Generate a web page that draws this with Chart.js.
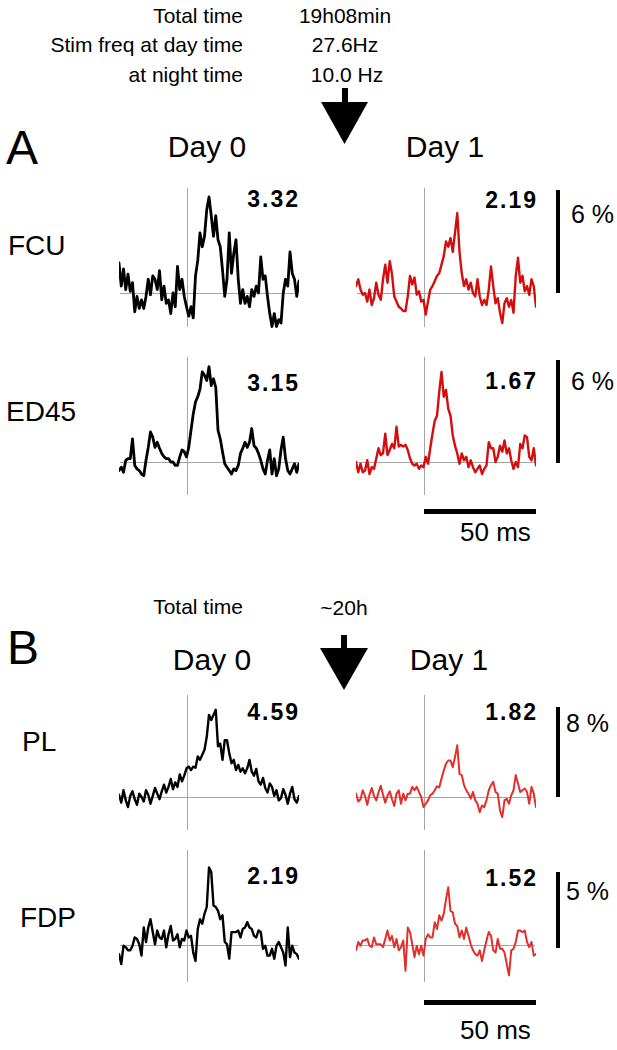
<!DOCTYPE html>
<html><head><meta charset="utf-8">
<script src="https://cdn.jsdelivr.net/npm/chart.js@4.4.1/dist/chart.umd.min.js"></script>
<style>
body{margin:0;background:#fff;width:617px;height:1050px;position:relative;overflow:hidden;font-family:"Liberation Sans",Arial,sans-serif;color:#000}
.t{position:absolute;white-space:nowrap;line-height:1}
.c{transform:translateX(-50%)}
.num{font-weight:bold;font-size:23px;letter-spacing:2px}
canvas{position:absolute}
.bar{position:absolute;background:#000}
svg{position:absolute;left:0;top:0}
</style></head><body>

<div class="t" style="right:374px;top:5px;font-size:21px">Total time</div>
<div class="t" style="right:374px;top:34px;font-size:21px">Stim freq at day time</div>
<div class="t" style="right:374px;top:64px;font-size:21px">at night time</div>
<div class="t c" style="left:345px;top:5px;font-size:21px">19h08min</div>
<div class="t c" style="left:345px;top:34px;font-size:21px">27.6Hz</div>
<div class="t c" style="left:347px;top:64px;font-size:21px">10.0 Hz</div>

<div class="t" style="left:6px;top:124px;font-size:48px">A</div>
<div class="t c" style="left:207px;top:132px;font-size:30px">Day 0</div>
<div class="t c" style="left:445px;top:132px;font-size:30px">Day 1</div>
<div class="t" style="left:8px;top:232px;font-size:28px">FCU</div>
<div class="t" style="left:6px;top:398px;font-size:28px">ED45</div>

<div class="t" style="right:374px;top:596px;font-size:21px">Total time</div>
<div class="t c" style="left:344px;top:597px;font-size:21px">~20h</div>
<div class="t" style="left:7px;top:624px;font-size:48px">B</div>
<div class="t c" style="left:212px;top:645px;font-size:30px">Day 0</div>
<div class="t c" style="left:449px;top:645px;font-size:30px">Day 1</div>
<div class="t" style="left:22px;top:728px;font-size:28px">PL</div>
<div class="t" style="left:20px;top:904px;font-size:28px">FDP</div>

<div class="t num" style="right:317px;top:188px">3.32</div>
<div class="t num" style="right:79px;top:189px">2.19</div>
<div class="t num" style="right:317px;top:372px">3.15</div>
<div class="t num" style="right:79px;top:370px">1.67</div>
<div class="t num" style="right:317px;top:701px">4.59</div>
<div class="t num" style="right:79px;top:701px">1.82</div>
<div class="t num" style="right:317px;top:865px">2.19</div>
<div class="t num" style="right:79px;top:867px">1.52</div>

<div class="t" style="left:571px;top:202px;font-size:25px">6 %</div>
<div class="t" style="left:571px;top:369px;font-size:25px">6 %</div>
<div class="t" style="left:566px;top:711px;font-size:25px">8 %</div>
<div class="t" style="left:566px;top:879px;font-size:25px">5 %</div>
<div class="t" style="left:460px;top:519px;font-size:26px">50 ms</div>
<div class="t" style="left:460px;top:1017px;font-size:26px">50 ms</div>

<div class="bar" style="left:556px;width:4px;top:190px;height:103px"></div>
<div class="bar" style="left:556px;width:4px;top:360px;height:103px"></div>
<div class="bar" style="left:556px;width:4px;top:707px;height:90px"></div>
<div class="bar" style="left:556px;width:4px;top:872px;height:76px"></div>
<div class="bar" style="left:424px;width:112px;top:509px;height:5px"></div>
<div class="bar" style="left:424px;width:112px;top:1000px;height:5px"></div>

<svg width="617" height="1050">
  <rect x="342" y="88" width="6" height="15" fill="#000"/>
  <polygon points="321,102 368,102 344.5,144" fill="#000"/>
  <rect x="341" y="635" width="6" height="14" fill="#000"/>
  <polygon points="320,648 368,648 344,690" fill="#000"/>
</svg>

<script>
// time axis (ms relative to stimulus), 1 ms samples
const timeMs = Array.from({length: 81}, (_, i) => i - 30);

// spike-triggered averages (% of baseline)
const FCU_day0 = [1.75,0.4,1.4,0.2,1.1,0.1,0.6,-1.1,-0.2,-0.9, -0.4,-0.9,-0.2,0.8,-0.1,1.0,0.8,0.2,1.3,-0.4, 0.4,-0.6,-0.4,-1.2,0,-0.8,1.55,0.2,0.8,-0.2, -0.8,-1.35,-0.8,-1.45,1.0,1.9,3.5,2.7,3.3,4.85, 5.6,4.5,3.3,4.5,3.1,2.7,1.35,-0.2,0.8,3.5, 1.15,2.3,3.1,0.8,-0.6,0.2,-0.6,-0.2,-0.8,0.2, -0.2,0.4,0,2.1,0.8,1.0,-0.2,-1.2,-1.95,-1.2, -1.95,-1.55,-1.75,0,0.8,0.4,2.4,1.15,0.8,-0.2,0.7];
const FCU_day1 = [0.4,0.8,0.2,-0.1,0,-0.5,0.2,-0.7,-0.3,0.6, -0.1,-0.4,0.8,1.65,0.6,1.85,1.1,-0.2,-0.5,-0.8, -0.9,-1.05,-1.05,-0.2,1.0,0.5,0.9,-0.1,0.1,-0.5, -0.4,-1.25,-0.5,0.2,0.4,0.7,1.0,1.15,1.65,2.15, 3.0,2.7,3.2,2.4,3.5,4.65,2.4,1.15,0.4,0.8, 0.2,0.6,0,-0.2,0.8,-0.2,-0.7,-0.4,-0.7,0.2, 1.55,0.4,-0.6,-0.3,-1.15,-1.75,-0.6,-0.3,-0.8,-0.4, -1.15,1.0,2.05,0.6,1.0,0.1,0.4,-0.1,0.8,0.4,-0.8];
const ED45_day0 = [-0.5,-0.3,-0.6,0.1,0.2,0.2,1.35,-0.2,-0.4,-0.5, -0.7,-0.8,0.1,0.85,1.75,1.45,0.85,1.15,0.8,0.5, 0.3,0.2,0.2,0,0,-0.2,-0.2,0.3,0.7,0.6, 0.3,0.85,1.85,2.8,3.5,3.8,4.25,5.25,5.05,4.75, 5.55,4.45,4.85,4.35,1.85,1.35,0.6,-0.1,-0.3,-0.5, -0.7,-0.4,-0.5,-0.2,0.5,0.8,1.15,0.85,1.15,1.95, 0.95,0.8,0.5,0.1,-0.4,-0.7,0.1,0.7,-0.7,0.2, -0.8,-0.4,0.7,1.45,0.2,-0.5,-0.7,-0.4,-0.1,-0.6,-0.1];
const ED45_day1 = [0,-0.6,-0.1,-0.6,-0.5,0.1,-0.7,-0.3,-0.4,0.2, 0.8,0.4,0.5,1.65,0.4,0.7,1.05,0.8,2.05,0.9, 1.0,0.9,1.0,0.7,0.2,-0.1,-0.2,-0.1,-0.4,-0.2, -0.3,0.3,-0.1,0.8,1.65,2.4,2.7,4.1,5.25,3.8, 4.2,3.1,2.7,1.55,0.95,0.5,-0.1,0.5,0.1,0.3, -0.3,0.1,-0.3,-0.6,-0.4,-0.2,-0.7,-0.4,-0.2,1.15, 0.8,0.8,0,0.3,0.95,0.6,1.25,0.5,0.8,0.1, -0.4,0,-0.3,1.05,0.8,1.55,1.45,0.3,0.1,0.8,-0.2];
const PL_day0 = [0.2,-0.5,0.6,-0.3,-0.9,0.1,0.5,-0.2,-0.7,0.3, 0.0,-0.4,0.6,0.2,-0.6,0.1,0.8,0.3,-0.2,0.5, 1.1,0.4,0.9,1.6,0.7,1.3,0.9,2.0,1.4,1.9, 2.55,2.7,2.4,2.7,2.6,3.6,3.3,3.75,4.2,5.35, 7.3,6.85,7.3,7.75,4.5,4.75,3.3,5.05,5.05,3.9, 3.0,3.3,2.4,2.85,2.25,2.55,2.1,2.55,3.3,2.25, 1.9,2.5,1.4,1.1,1.7,0.8,0.4,1.2,0.9,0.1, 0.6,-0.3,-0.1,0.7,0.2,-0.6,0.3,0.9,-0.2,-0.5,0.1];
const PL_day1 = [0.3,-0.4,-0.2,0.6,0.1,-0.7,0.2,0.8,0.1,-0.3, 0.4,1.0,0.2,-0.5,0.1,0.5,-0.2,-0.8,0.3,0.6, -0.6,0.3,-0.3,0.3,0.3,0.9,0.6,0.9,0.45,0, -0.9,-0.6,-0.3,0.15,0.3,0.6,0.95,0.85,1.65,2.35, 2.95,3.25,3.25,2.65,3.55,4.6,2.05,1.95,1.05,0.6, 0.3,-0.15,0.45,-0.3,-0.6,-1.35,-0.75,-0.9,-0.3,0.6, 1.05,1.35,0.45,0.3,-1.2,-1.8,-0.3,-0.15,-0.6,0.15, 0.6,1.95,1.2,0.45,0.6,0.75,0.45,-0.6,0.9,0.3,-0.9];
const FDP_day0 = [-0.6,-1.25,-0.05,-0.15,-0.35,-0.35,-0.05,0.5,0.4,0.05, -0.7,1.15,0.2,1.15,1.7,0.85,0.05,0.95,0.5,0.4, 0.95,-0.15,0.7,1.25,0.3,0.4,0.7,-0.15,0.4,0.3, 0.95,0.5,0.6,-0.5,-1.05,1.05,1.7,1.4,2.05,2.5, 5.1,4.8,2.6,2.5,2.25,1.7,1.95,0.2,0.05,-0.9, 0.85,0.85,0.85,0.95,0.5,1.05,1.15,1.5,1.15,1.05, 0.6,0.5,0.95,0.85,-0.25,-0.05,-0.7,-0.7,-0.25,-0.9, -0.05,0.2,-0.15,-0.5,-1.35,1.15,-0.8,-0.05,-0.5,-0.6,-0.9];
const FDP_day1 = [-0.35,0.2,-0.05,0.3,0.3,0.4,-0.05,-0.15,0.5,0.05, 0.05,0.05,-0.15,0.4,0.95,0.3,0.6,-0.15,0.4,-0.35, -0.15,0.3,-1.7,1.15,0.85,0.05,-0.8,-0.05,-0.6,-0.05, -0.7,0.4,0.7,0.5,0.5,1.5,1.05,1.95,1.6,2.05, 3.0,3.8,2.25,2.15,1.4,1.25,0.5,0.95,0.4,1.15, 0.6,0.05,-0.35,-0.6,-0.7,-0.35,-1.05,-0.35,0.3,0.85, 0.6,-0.35,-0.5,0.4,-0.25,-0.25,-0.5,-1.25,-2.0,-0.35, -0.25,0.2,0.95,0.95,0.85,0.95,0.2,-0.15,0.2,-0.7,-0.6];

// layout (pixels)
const rows = [
  {top:180, bottom:340, baseline:293, ppp:103/6, vTop:188, vBot:327},
  {top:350, bottom:505, baseline:462, ppp:103/6, vTop:357, vBot:495},
  {top:688, bottom:838, baseline:797, ppp:90/8,  vTop:695, vBot:830},
  {top:843, bottom:988, baseline:945, ppp:76/5,  vTop:850, vBot:982}
];
const colLeft = [119, 356];

const refLines = {
  id: 'refLines',
  beforeDatasetsDraw(chart, args, opts) {
    const {ctx, chartArea} = chart;
    const x = chart.scales.x, y = chart.scales.y;
    ctx.save();
    ctx.strokeStyle = '#a6a6a6';
    ctx.lineWidth = 1;
    const x0 = Math.round(x.getPixelForValue(0)) + 0.5;
    const y0 = Math.round(y.getPixelForValue(0)) + 0.5;
    ctx.beginPath();
    ctx.moveTo(x0, opts.vTop); ctx.lineTo(x0, opts.vBot);
    ctx.moveTo(chartArea.left + 1, y0); ctx.lineTo(chartArea.right - 1, y0);
    ctx.stroke();
    ctx.restore();
  }
};

function makeTrace(col, rowIdx, values, color, width) {
  const row = rows[rowIdx];
  const c = document.createElement('canvas');
  c.width = 180; c.height = row.bottom - row.top;
  c.style.left = colLeft[col] + 'px'; c.style.top = row.top + 'px';
  c.style.width = '180px'; c.style.height = (row.bottom - row.top) + 'px';
  document.body.appendChild(c);
  new Chart(c, {
    type: 'line',
    data: {datasets: [{
      data: timeMs.map((t, i) => ({x: t, y: values[i]})),
      borderColor: color, borderWidth: width, pointRadius: 0, tension: 0,
      fill: false, borderJoinStyle: 'round', borderCapStyle: 'round'
    }]},
    options: {
      responsive: false, animation: false, devicePixelRatio: 1, events: [],
      layout: {padding: 0},
      plugins: {legend: {display: false}, tooltip: {enabled: false},
        refLines: {vTop: row.vTop - row.top, vBot: row.vBot - row.top}},
      scales: {
        x: {type: 'linear', display: false, min: -30, max: 50},
        y: {type: 'linear', display: false,
            min: -(row.bottom - row.baseline) / row.ppp,
            max: (row.baseline - row.top) / row.ppp}
      }
    },
    plugins: [refLines]
  });
}

makeTrace(0, 0, FCU_day0, '#000000', 2.8);
makeTrace(1, 0, FCU_day1, '#d40d0d', 2.4);
makeTrace(0, 1, ED45_day0, '#000000', 2.8);
makeTrace(1, 1, ED45_day1, '#d40d0d', 2.4);
makeTrace(0, 2, PL_day0, '#000000', 2.4);
makeTrace(1, 2, PL_day1, '#e0302c', 2.0);
makeTrace(0, 3, FDP_day0, '#000000', 2.4);
makeTrace(1, 3, FDP_day1, '#e0302c', 2.0);
</script>
</body></html>
